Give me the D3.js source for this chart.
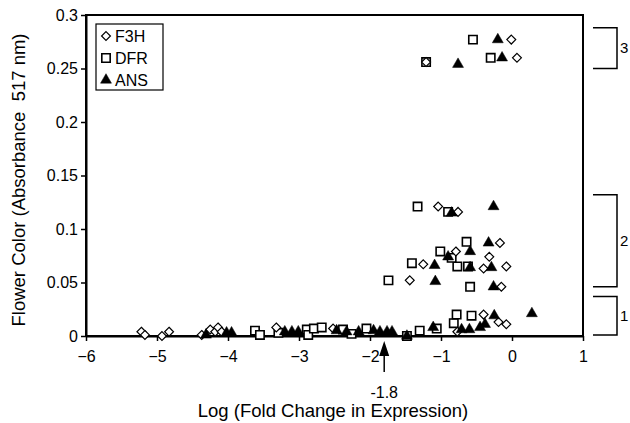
<!DOCTYPE html>
<html>
<head>
<meta charset="utf-8">
<script src="https://cdn.jsdelivr.net/npm/d3@7"></script>
<style>
  body { margin: 0; background: #fff; }
  svg { display: block; font-family: "Liberation Sans", Arial, sans-serif; }
</style>
</head>
<body>
<svg id="chart" width="630" height="423"></svg>
<script>
// data: [log fold change, absorbance]
const f3hPoints = [
  [-5.22, 0.004], [-5.17, 0.001], [-4.93, 0.000], [-4.83, 0.004],
  [-4.37, 0.001], [-4.25, 0.006], [-4.18, 0.004], [-4.14, 0.008], [-4.09, 0.004],
  [-3.32, 0.008], [-2.52, 0.007],
  [-0.77, 0.004], [-0.40, 0.020], [-0.19, 0.013], [-0.08, 0.011],
  [-1.44, 0.052], [-0.15, 0.046], [-1.25, 0.067], [-0.40, 0.063], [-0.08, 0.065],
  [-0.79, 0.079], [-0.32, 0.074], [-0.17, 0.087], [-1.04, 0.121], [-0.76, 0.116],
  [-1.21, 0.256], [0.07, 0.260], [-0.01, 0.277]
];
const dfrPoints = [
  [-3.62, 0.005], [-3.55, 0.001], [-3.29, 0.003], [-2.89, 0.006], [-2.87, 0.001],
  [-2.79, 0.007], [-2.68, 0.008], [-2.38, 0.006], [-2.26, 0.002], [-2.05, 0.007],
  [-1.48, 0.000], [-1.30, 0.005], [-1.06, 0.007],
  [-0.82, 0.012], [-0.78, 0.020], [-0.57, 0.019],
  [-1.74, 0.052], [-0.59, 0.046], [-1.41, 0.068], [-0.77, 0.065], [-0.62, 0.065],
  [-1.01, 0.079], [-0.85, 0.073], [-0.64, 0.088], [-1.33, 0.121], [-0.90, 0.116],
  [-1.21, 0.256], [-0.30, 0.260], [-0.55, 0.277]
];
const ansPoints = [
  [-4.31, 0.001], [-4.02, 0.003], [-3.95, 0.003], [-3.20, 0.004], [-3.10, 0.004],
  [-3.01, 0.004], [-2.47, 0.005], [-2.33, 0.004], [-2.16, 0.004], [-1.95, 0.005],
  [-1.86, 0.004], [-1.76, 0.004], [-1.69, 0.004], [-1.48, 0.000], [-1.11, 0.008],
  [-0.71, 0.006], [-0.60, 0.006], [-0.45, 0.008], [-0.38, 0.011], [-0.25, 0.019], [0.28, 0.021],
  [-1.08, 0.051], [-0.26, 0.046], [-1.09, 0.066], [-0.59, 0.064], [-0.29, 0.064],
  [-0.90, 0.074], [-0.59, 0.079], [-0.33, 0.087], [-0.85, 0.115], [-0.26, 0.121],
  [-0.76, 0.254], [-0.14, 0.260], [-0.20, 0.277]
];
const xTicks = [-6, -5, -4, -3, -2, -1, 0, 1];
const yTicks = [0, 0.05, 0.1, 0.15, 0.2, 0.25, 0.3];
const groupLabels = ['1', '2', '3'];
const groupRanges = [[0.001, 0.037], [0.046, 0.132], [0.250, 0.288]];
const thresholdX = -1.8;

const svg = d3.select('#chart');
const plotL = 86, plotR = 583, plotT = 15, plotB = 336;

const x = d3.scaleLinear().domain([-6, 1]).range([plotL, plotR]);
const y = d3.scaleLinear().domain([0, 0.3]).range([plotB, plotT]);

// plot frame
svg.append('rect')
  .attr('x', plotL).attr('y', plotT)
  .attr('width', plotR - plotL).attr('height', plotB - plotT)
  .attr('fill', 'none').attr('stroke', '#000').attr('stroke-width', 2);

// axes
const xAxis = svg.append('g')
  .attr('transform', `translate(0,${plotB})`)
  .call(d3.axisBottom(x).tickValues(xTicks).tickSize(5).tickSizeOuter(0).tickFormat(d3.format('d')));
const yAxis = svg.append('g')
  .attr('transform', `translate(${plotL},0)`)
  .call(d3.axisLeft(y).tickValues(yTicks).tickSize(5).tickSizeOuter(0).tickFormat(d => d === 0 ? '0' : d3.format('')(d)));

[xAxis, yAxis].forEach(a => {
  a.select('.domain').attr('stroke-width', 2);
  a.selectAll('line').attr('stroke-width', 1.5);
  a.selectAll('text').attr('fill', '#000').style('font-size', '16px')
    .style('font-family', '"Liberation Sans", Arial, sans-serif');
});
xAxis.selectAll('text').attr('dy', '1.1em');
yAxis.selectAll('text').attr('x', -8);

// markers
const diamond = d3.symbol().type(d3.symbolDiamond2).size(50);
const square = d3.symbol().type(d3.symbolSquare).size(70);
const triangle = d3.symbol().type(d3.symbolTriangle).size(52);

function drawSeries(data, sym, fill, sw) {
  svg.append('g')
    .selectAll('path')
    .data(data)
    .join('path')
    .attr('d', sym)
    .attr('transform', d => `translate(${x(d[0])},${y(d[1])})`)
    .attr('fill', fill)
    .attr('stroke', '#000')
    .attr('stroke-width', sw);
}
drawSeries(dfrPoints, square, '#fff', 1.6);
drawSeries(f3hPoints, diamond, '#fff', 1.2);
drawSeries(ansPoints, triangle, '#000', 0.5);

// legend
const legend = svg.append('g');
legend.append('rect')
  .attr('x', 96).attr('y', 24).attr('width', 67).attr('height', 66)
  .attr('fill', '#fff').attr('stroke', '#000').attr('stroke-width', 1.2);
const legendItems = [['F3H', diamond, '#fff', 1.2], ['DFR', square, '#fff', 1.6], ['ANS', triangle, '#000', 0.5]];
legendItems.forEach((it, i) => {
  const ly = 36 + i * 22;
  legend.append('path').attr('d', it[1])
    .attr('transform', `translate(106,${ly})`)
    .attr('fill', it[2]).attr('stroke', '#000').attr('stroke-width', it[3]);
  legend.append('text').attr('x', 115).attr('y', ly + 6)
    .style('font-size', '16px').text(it[0]);
});

// group brackets on the right
groupRanges.forEach((r, i) => {
  const y0 = y(r[1]), y1 = y(r[0]);
  svg.append('path')
    .attr('d', `M593,${y0}H617V${y1}H593`)
    .attr('fill', 'none').attr('stroke', '#000').attr('stroke-width', 1.5);
  svg.append('text')
    .attr('x', 620).attr('y', (y0 + y1) / 2 + 5)
    .style('font-size', '15px').text(groupLabels[i]);
});

// threshold arrow
const ax = x(thresholdX);
svg.append('line')
  .attr('x1', ax).attr('x2', ax).attr('y1', 352).attr('y2', 372)
  .attr('stroke', '#000').attr('stroke-width', 1.5);
svg.append('path')
  .attr('d', `M${ax},341L${ax + 5},356L${ax - 5},356Z`)
  .attr('fill', '#000');
svg.append('text')
  .attr('x', ax).attr('y', 398).attr('text-anchor', 'middle')
  .style('font-size', '16px').text(thresholdX);

// axis titles
svg.append('text')
  .attr('x', 333).attr('y', 417).attr('text-anchor', 'middle')
  .style('font-size', '18.5px').text('Log (Fold Change in Expression)');
svg.append('text')
  .attr('transform', 'translate(25,180) rotate(-90)')
  .attr('text-anchor', 'middle')
  .style('white-space', 'pre')
  .style('font-size', '18.5px').text('Flower Color (Absorbance  517 nm)');
</script>
</body>
</html>
